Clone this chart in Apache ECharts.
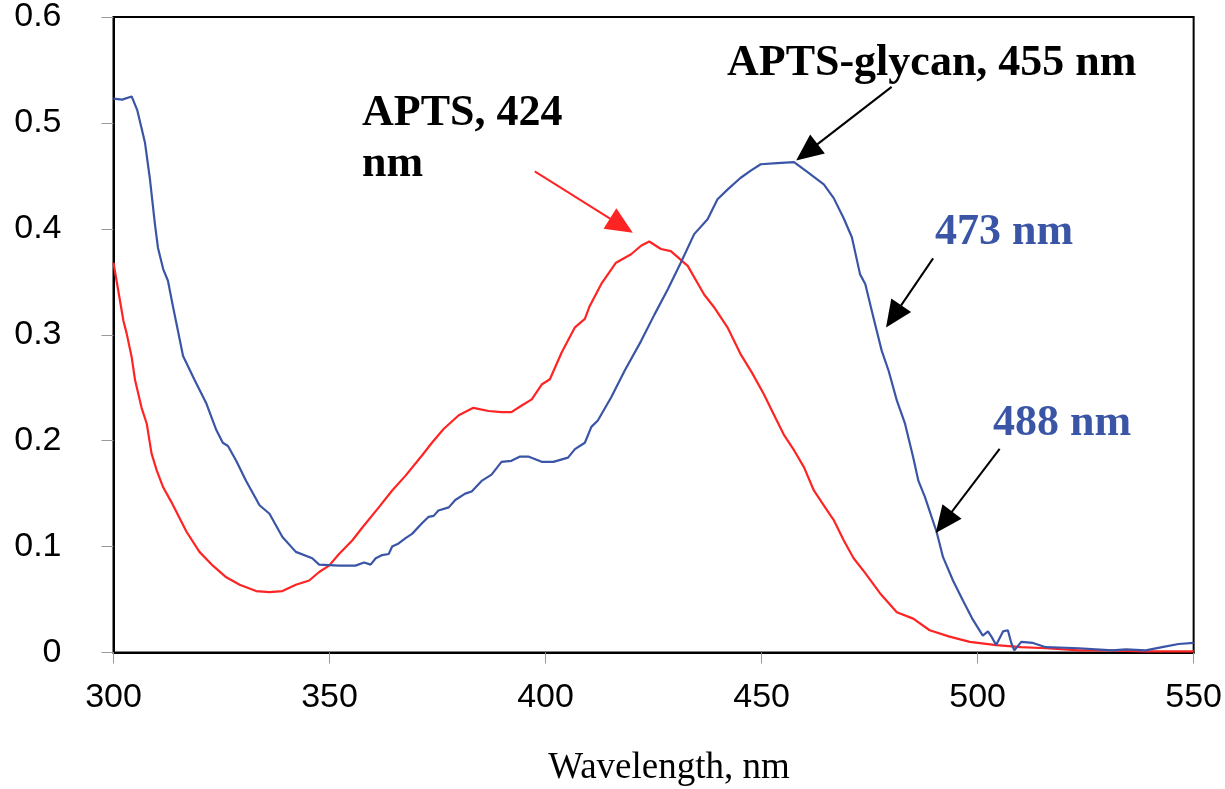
<!DOCTYPE html>
<html>
<head>
<meta charset="utf-8">
<script src="https://cdn.jsdelivr.net/npm/echarts@6/dist/echarts.min.js"></script>
<style>
html,body{margin:0;padding:0;background:#fff;}
#chart{width:1225px;height:789px;}
</style>
</head>
<body>
<div id="chart"></div>
<script>
// ---- data ----
const xTicks = [300, 350, 400, 450, 500, 550];
const yTicks = [0, 0.1, 0.2, 0.3, 0.4, 0.5, 0.6];

const glycanWl = [300,302,304.2,305.5,306.5,307.3,308.4,309.6,310.3,311.5,312.6,313.8,314.9,316.1,318.8,321.5,323.8,325.3,326.5,328.4,330.7,333.8,336.1,339.1,342.2,346,347.6,352.2,356,358,359.5,360.7,362.2,363.7,364.5,366,367.6,369.1,371.4,372.9,374.1,375.2,377.6,379.1,381.4,382.9,385.2,387.5,389.8,392.1,394.1,396,399.1,401.8,405.2,406.8,409.1,410.6,412.1,415.2,418.3,422.1,425.2,428.3,431.3,434.4,437.5,439.8,442.1,445.1,447.5,449.8,453.6,457.5,460.5,464.4,466.7,469,470.9,472.8,474,475.9,477.8,479.4,481.3,483.2,485.1,486.3,487.8,490.5,492,494.3,496.6,498.9,501.2,502.4,503.2,504.3,505.9,507,507.8,508.5,510.1,512.8,515.8,523.5,531.2,534.3,538.9,542.7,546.5,550];
const glycanAbs = [0.523,0.522,0.525,0.512,0.495,0.481,0.448,0.404,0.382,0.362,0.351,0.326,0.304,0.280,0.257,0.235,0.210,0.198,0.195,0.181,0.162,0.139,0.131,0.109,0.095,0.089,0.083,0.082,0.082,0.085,0.083,0.089,0.092,0.093,0.100,0.103,0.108,0.112,0.122,0.128,0.129,0.134,0.137,0.144,0.150,0.152,0.162,0.168,0.180,0.181,0.185,0.185,0.180,0.180,0.184,0.192,0.198,0.213,0.219,0.241,0.266,0.294,0.319,0.343,0.368,0.395,0.409,0.428,0.437,0.448,0.455,0.461,0.462,0.463,0.454,0.442,0.429,0.410,0.392,0.357,0.348,0.316,0.285,0.266,0.238,0.216,0.184,0.162,0.147,0.114,0.090,0.068,0.049,0.031,0.016,0.020,0.015,0.007,0.020,0.021,0.009,0.002,0.010,0.009,0.005,0.004,0.002,0.003,0.002,0.005,0.008,0.009];

const aptsWl = [300,302.3,303,304.2,305,306.5,307.7,308.8,310,311.5,313.4,316.9,319.9,323,326.1,329.2,333,336.1,339.1,342.2,345.3,347.6,349.9,352.2,355.3,357.6,361.4,364.5,367.6,371.4,373.7,376.4,379.9,383.3,386.8,389.8,392.1,394.4,396.8,399.1,401,403.7,406.8,409.1,410.2,412.9,416.3,419.8,422.1,424,426.7,429,432.9,436.7,439,442.1,445.1,447.8,450.5,452.8,455.1,457.5,459.8,462.1,464.7,466.7,469,471.3,474,477.4,481.3,485.1,488.9,493.5,498.2,504.3,510,515.8,523.4,530,538.9,550];
const aptsAbs = [0.368,0.313,0.302,0.279,0.257,0.231,0.216,0.188,0.172,0.156,0.142,0.114,0.095,0.082,0.071,0.064,0.058,0.057,0.058,0.064,0.068,0.076,0.082,0.093,0.106,0.118,0.137,0.153,0.167,0.186,0.198,0.211,0.224,0.231,0.228,0.227,0.227,0.233,0.239,0.253,0.258,0.283,0.307,0.315,0.327,0.348,0.368,0.376,0.384,0.388,0.381,0.379,0.365,0.338,0.326,0.307,0.282,0.264,0.244,0.225,0.206,0.191,0.175,0.153,0.137,0.125,0.106,0.089,0.075,0.056,0.038,0.032,0.021,0.015,0.010,0.007,0.005,0.004,0.002,0.002,0.001,0.001];

// annotation texts and arrow anchors (data coordinates: [wavelength, absorbance])
const labelTexts = ['APTS-glycan, 455 nm', 'APTS, 424', 'nm', '473 nm', '488 nm'];
const arrowStarts = [[480.1,0.534],[397.5,0.4543],[489.7,0.3721],[505.1,0.1923]];
const arrowTips   = [[458.0,0.4644],[420.2,0.3962],[478.8,0.3068],[490.3,0.1128]];

const BLUE = '#3a55a6';
const RED = '#ff2424';

const chart = echarts.init(document.getElementById('chart'), null, {renderer:'canvas'});
const option = {
  animation: false,
  backgroundColor: '#fff',
  grid: {left: 113.5, top: 15, right: 27, bottom: 136.5, show: true, borderColor: '#000', borderWidth: 2, backgroundColor: 'transparent'},
  xAxis: {
    type: 'value', min: xTicks[0], max: xTicks[xTicks.length-1], interval: 50,
    axisLine: {show: true, lineStyle: {color: '#000', width: 2}},
    axisTick: {show: true, length: 11, lineStyle: {color: '#999', width: 1}},
    splitLine: {show: false},
    axisLabel: {color: '#000', fontFamily: 'Liberation Sans', fontSize: 34, margin: 28}
  },
  yAxis: {
    type: 'value', min: yTicks[0], max: yTicks[yTicks.length-1], interval: 0.1,
    axisLine: {show: true, lineStyle: {color: '#000', width: 2}},
    axisTick: {show: true, length: 12, lineStyle: {color: '#999', width: 1}},
    splitLine: {show: false},
    axisLabel: {color: '#000', fontFamily: 'Liberation Sans', fontSize: 34, margin: 52,
      formatter: v => String(Math.round(v*10)/10)}
  },
  series: [
    {type: 'line', name: 'APTS-glycan', data: glycanWl.map((w,i)=>[w, glycanAbs[i]]), showSymbol: false, symbol: 'none',
     lineStyle: {color: BLUE, width: 2.2}, z: 3},
    {type: 'line', name: 'APTS', data: aptsWl.map((w,i)=>[w, aptsAbs[i]]), showSymbol: false, symbol: 'none',
     lineStyle: {color: RED, width: 2.2}, z: 2}
  ]
};
chart.setOption(option);

// annotations
function px(p){ return chart.convertToPixel({gridIndex:0}, p); }
const arrowColors = ['#000', RED, '#000', '#000'];
const gfx = [];
arrowStarts.forEach((s, i) => {
  const a = px(s), b = px(arrowTips[i]);
  const dx = b[0]-a[0], dy = b[1]-a[1];
  const L = Math.hypot(dx, dy), ux = dx/L, uy = dy/L;
  const headLen = 27, headW = 12;
  const bx = b[0]-ux*headLen, by = b[1]-uy*headLen;
  gfx.push({type:'line', shape:{x1:a[0], y1:a[1], x2:bx+ux*2, y2:by+uy*2}, style:{stroke: arrowColors[i], lineWidth: 2}, z: 10});
  gfx.push({type:'polygon', shape:{points:[[b[0],b[1]],[bx-uy*headW, by+ux*headW],[bx+uy*headW, by-ux*headW]]}, style:{fill: arrowColors[i]}, z: 10});
});
const textFont = 'bold 44px "Liberation Serif", "Times New Roman", serif';
const textPos = [[727,86,'#000'],[362,136,'#000'],[362,187,'#000'],[935,255,BLUE],[993,446,BLUE]];
labelTexts.forEach((t,i)=>{
  gfx.push({type:'text', x:textPos[i][0], y:textPos[i][1], style:{text:t, font:textFont, fill:textPos[i][2], verticalAlign:'bottom'}, z: 11});
});
gfx.push({type:'text', x:669, y:768, style:{text:'Wavelength, nm', font:'37px "Liberation Serif", "Times New Roman", serif', fill:'#000', align:'center', verticalAlign:'middle'}, z: 11});
chart.setOption({graphic: gfx});
</script>
</body>
</html>
